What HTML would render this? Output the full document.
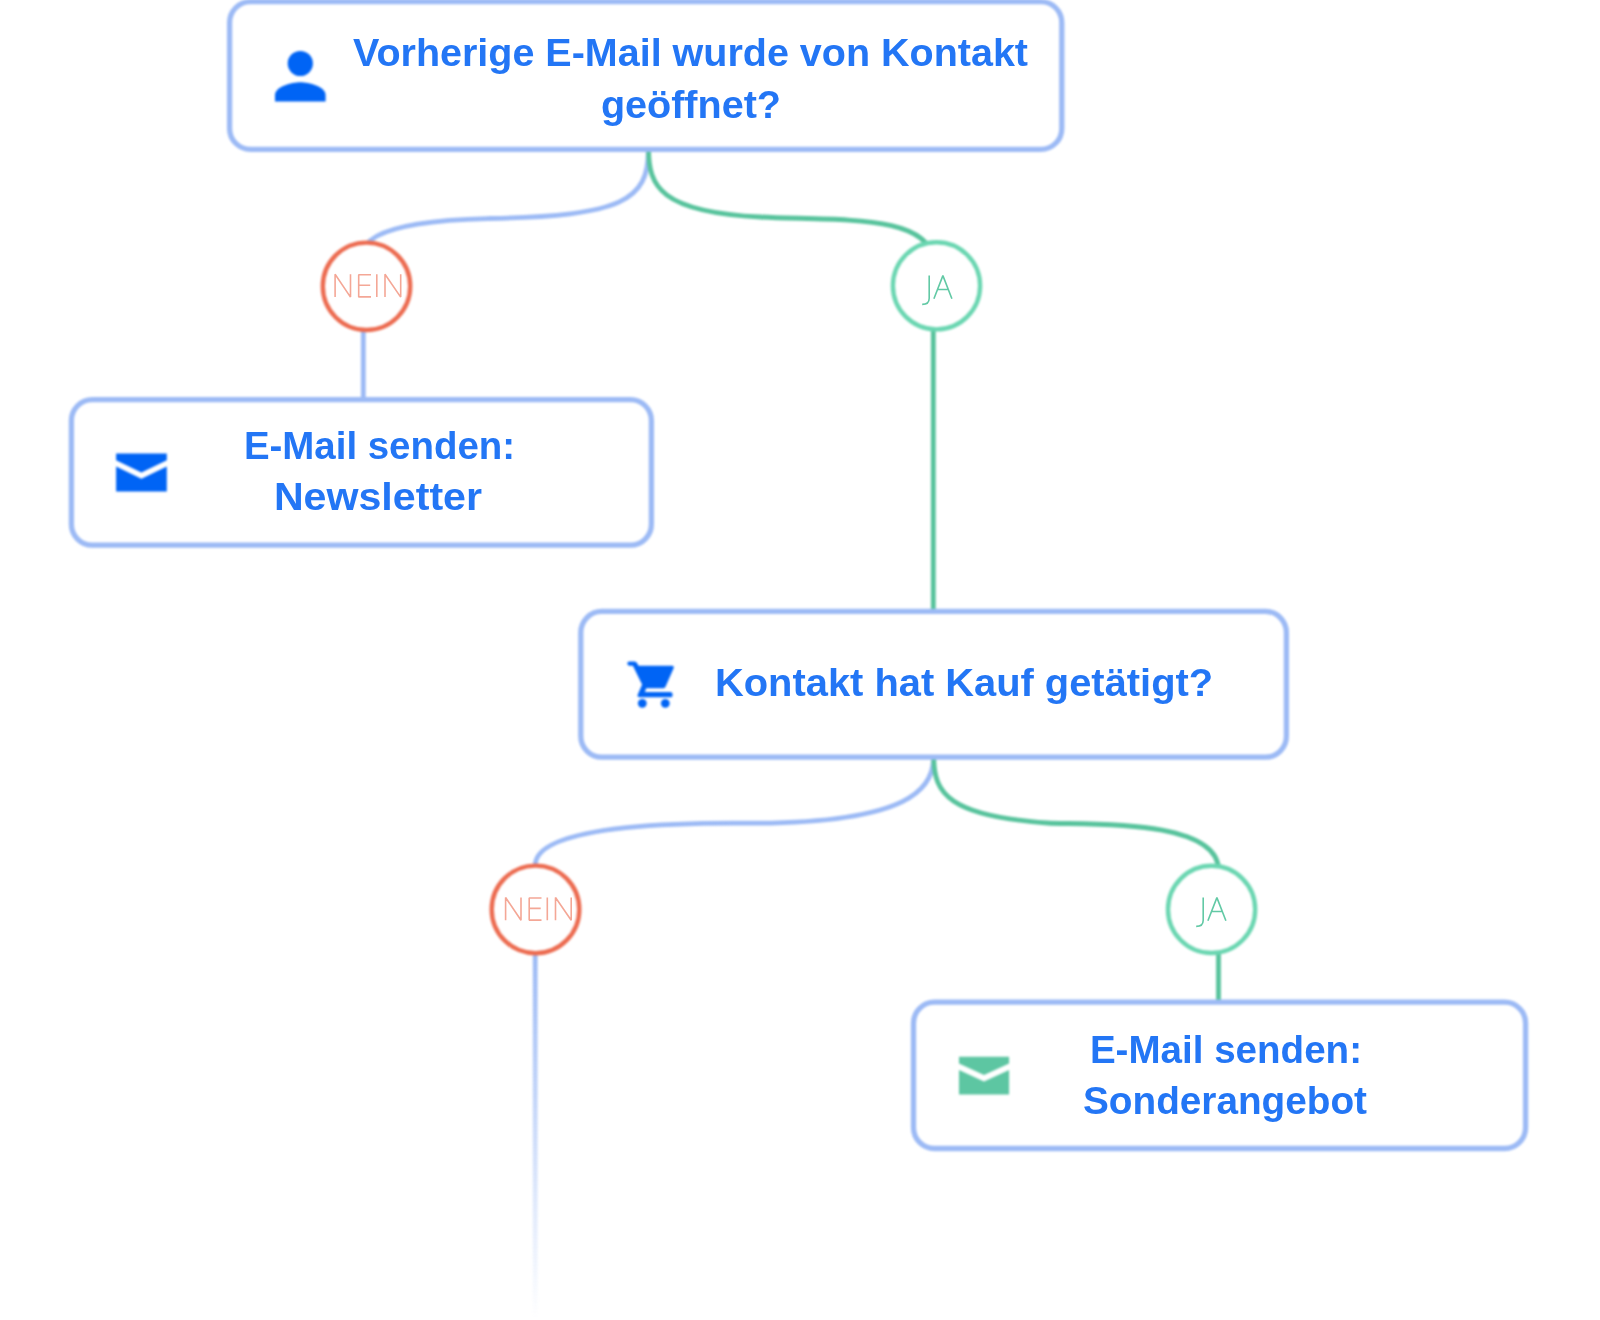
<!DOCTYPE html>
<html><head><meta charset="utf-8">
<style>
html,body{margin:0;padding:0;background:#fff;width:1600px;height:1320px;overflow:hidden}
svg{display:block}
.t{font-family:"Liberation Sans",sans-serif;font-weight:bold;font-size:38px;fill:#2376f5}
</style></head><body>
<svg width="1600" height="1320" viewBox="0 0 1600 1320">
<defs>
<linearGradient id="fade" x1="0" y1="955" x2="0" y2="1318" gradientUnits="userSpaceOnUse">
<stop offset="0" stop-color="#9cbaf5" stop-opacity="1"/>
<stop offset="1" stop-color="#9cbaf5" stop-opacity="0"/>
</linearGradient>
<filter id="bl" color-interpolation-filters="sRGB" x="-5%" y="-5%" width="110%" height="110%" filterUnits="userSpaceOnUse"><feGaussianBlur stdDeviation="0.8"/></filter>
<filter id="bt" color-interpolation-filters="sRGB" x="0" y="0" width="1600" height="1320" filterUnits="userSpaceOnUse"><feGaussianBlur stdDeviation="0.35"/></filter>
</defs>
<g filter="url(#bl)">
<g fill="none" stroke-width="4.8">
<path d="M535.2,955 L535.2,1320" stroke="url(#fade)"/>
<path d="M648.4,149.4 C648.4,200.7 622.6,215.8 489.0,218.5 C471.7,218.9 363.3,220.4 363.3,254.1 L363.3,400.0" stroke="#9cbaf5"/>
<path d="M933.5,757.8 C933.5,788.8 908.8,821.7 758.4,823.2 C737.9,823.4 535.2,817.5 535.2,865.5 L535.2,955.0" stroke="#9cbaf5"/>
<path d="M648.6,149.4 C648.6,186.0 660.2,212.0 760.6,217.0 C836.6,220.8 933.3,213.2 933.3,263.3 L933.3,612.0" stroke="#57c39c"/>
<path d="M933.8,757.8 C933.8,793.5 949.4,816.1 1047.8,823.0 C1077.9,825.1 1218.5,817.0 1218.5,870.1 L1218.5,1003.0" stroke="#57c39c"/>
</g>
<g fill="#fff" stroke-width="4.4">
<circle cx="366.5" cy="286.3" r="43.7" stroke="#ec6b50"/>
<circle cx="936.5" cy="285.8" r="43.6" stroke="#6ad6b1"/>
<circle cx="535.5" cy="909.4" r="43.8" stroke="#ec6b50"/>
<circle cx="1211.6" cy="909.4" r="43.6" stroke="#6ad6b1"/>
</g>
<g fill="#fff" stroke="#9cbaf5" stroke-width="5.3">
<rect x="229.6" y="1.6" width="832.2" height="147.8" rx="21"/>
<rect x="71.4" y="399.6" width="580" height="145.6" rx="21"/>
<rect x="580.8" y="611.4" width="705.6" height="145.8" rx="21"/>
<rect x="913.5" y="1002.2" width="612.1" height="146.3" rx="21"/>
</g>
<g fill="#0064f5">
<circle cx="300.3" cy="63.5" r="12.6"/>
<path d="M275,101.5 L275,95 C275,86.6 291.8,82.3 300.3,82.3 C308.8,82.3 325.6,86.6 325.6,95 L325.6,101.5 Z"/>
<path d="M116.1,453.5 L166.8,453.5 L166.8,460.3 L141.4,472.4 L116.1,460.3 Z"/>
<path d="M116.1,466.6 L141.4,478.8 L166.8,466.6 L166.8,491.4 L116.1,491.4 Z"/>
<path d="M629.4,661.5 L634.5,661.5 Q636.2,661.5 637,663 L638.5,665.8 L672,665.8 Q674.5,666 673.6,668.3 L665.6,686.6 Q665,688.2 663.4,688.2 L646.3,688.2 L644.8,692.1 L670.2,692.1 Q672.6,692.1 672.6,694.7 Q672.6,697.3 670.2,697.3 L639.6,697.3 Q636.8,697.3 637.8,694.6 L642.1,684.5 L632.9,665.7 L629.4,665.7 Q627.3,665.7 627.3,663.6 Q627.3,661.5 629.4,661.5 Z"/>
<circle cx="642.3" cy="703.3" r="4.4"/>
<circle cx="665.3" cy="703.3" r="4.4"/>
</g>
<g fill="#5dc6a2">
<path d="M959,1056.7 L1009.1,1056.7 L1009.1,1063.4 L984,1075 L959,1063.4 Z"/>
<path d="M959,1069.9 L984,1081.6 L1009.1,1069.9 L1009.1,1094.6 L959,1094.6 Z"/>
</g>
</g>
<g filter="url(#bt)">
<text class="t" x="353.0" y="66.3" textLength="675.0" lengthAdjust="spacingAndGlyphs">Vorherige E-Mail wurde von Kontakt</text>
<text class="t" x="600.9" y="118.1" textLength="180.1" lengthAdjust="spacingAndGlyphs">geöffnet?</text>
<text class="t" x="243.9" y="459" textLength="271.2" lengthAdjust="spacingAndGlyphs">E-Mail senden:</text>
<text class="t" x="273.9" y="510" textLength="208.1" lengthAdjust="spacingAndGlyphs">Newsletter</text>
<text class="t" x="715.0" y="696.3" textLength="498.1" lengthAdjust="spacingAndGlyphs">Kontakt hat Kauf getätigt?</text>
<text class="t" x="1089.9" y="1062.5" textLength="272.1" lengthAdjust="spacingAndGlyphs">E-Mail senden:</text>
<text class="t" x="1083.0" y="1113.5" textLength="284.0" lengthAdjust="spacingAndGlyphs">Sonderangebot</text>
<g id="nein" fill="none" stroke="#f4a796" stroke-width="1.6" stroke-linejoin="bevel">
<path d="M335.1,297.1 L335.1,274.3 L350.5,297.1 L350.5,274.3 M371,274.8 L358.7,274.8 L358.7,296.9 L371,296.9 M358.7,285.2 L370.2,285.2 M376.8,274.3 L376.8,297.1 M385,297.1 L385,274.3 L400.7,297.1 L400.7,274.3"/>
</g>
<g id="ja" fill="none" stroke="#62c9a5" stroke-width="1.6" stroke-linejoin="bevel">
<path d="M929.2,275.4 L929.2,298.2 Q929.2,304.4 922.2,304.4 M933.9,298.8 L942.9,275.6 L951.9,298.8 M937.3,289.5 L948.5,289.5"/>
</g>
<use href="#nein" transform="translate(170.5,623.2)"/>
<use href="#ja" transform="translate(274,622)"/>
</g>
</svg>
</body></html>
